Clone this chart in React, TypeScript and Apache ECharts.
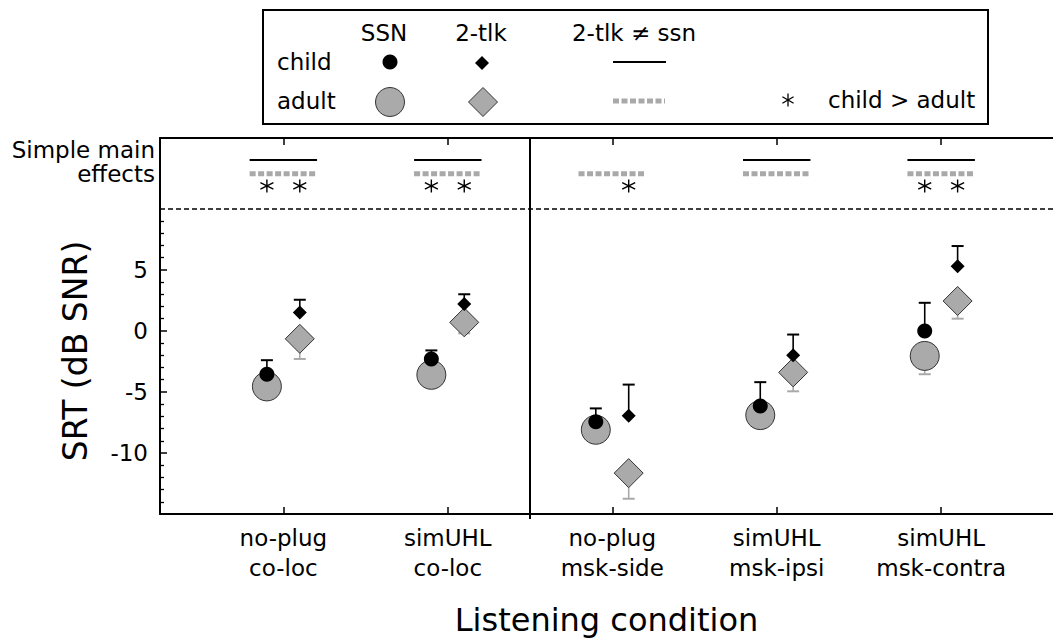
import React, { useEffect, useRef } from "react";
import * as echarts from "echarts";

// ---- data ----
const conditionTop = ["no-plug", "simUHL", "no-plug", "simUHL", "simUHL"];
const conditionBottom = ["co-loc", "co-loc", "msk-side", "msk-ipsi", "msk-contra"];

const childSSN = [-3.55, -2.3, -7.45, -6.15, 0.0];
const childSSNErrTop = [-2.4, -1.6, -6.35, -4.2, 2.3];
const adultSSN = [-4.55, -3.6, -8.1, -6.9, -2.05];
const adultSSNErrBottom: (number | null)[] = [null, null, null, null, -3.55];
const child2tlk = [1.5, 2.2, -6.95, -2.0, 5.3];
const child2tlkErrTop = [2.55, 3.0, -4.4, -0.3, 6.95];
const adult2tlk = [-0.65, 0.7, -11.65, -3.4, 2.45];
const adult2tlkErrBottom = [-2.3, -0.2, -13.75, -4.95, 1.0];

// simple main effects
const childTalkerDiff = [true, true, false, true, true];
const adultTalkerDiff = [true, true, true, true, true];
const childGtAdultSSN = [true, true, false, false, true];
const childGtAdult2tlk = [true, true, true, false, true];

const conditionTicks = [1, 2, 3, 4, 5];
const yMajorTicks = [-10, -5, 0, 5];
const yMinorTicks = [-14, -13, -12, -11, -9, -8, -7, -6, -4, -3, -2, -1, 1, 2, 3, 4, 6, 7, 8, 9];
const effectsBoundary = 10;
const spatialDivider = 2.5;

// ---- layout constants ----
const OFF = 0.1;
const HALF = 0.205;
const ROW_CHILD = 14;
const ROW_ADULT = 12.88;
const ROW_STAR = 11.87;
const GRAY = "#aaaaaa";
const GRAY_LINE = "#a9a9a9";
const FONT = "DejaVu Sans";
const ASTERISK = "path://M6,0L6,12M0.8,3L11.2,9M0.8,9L11.2,3";

function errData(centers: number[], ends: (number | null)[], offset: number) {
  const out: number[][] = [];
  centers.forEach((c, i) => {
    const e = ends[i];
    if (e != null) out.push([i + 1 + offset, c, e]);
  });
  return out;
}

function flagData(flags: boolean[], offset: number, y: number) {
  const out: number[][] = [];
  flags.forEach((f, i) => {
    if (f) out.push([i + 1 + offset, y]);
  });
  return out;
}

const errRender = (color: string) => (params: any, api: any) => {
  const x = api.value(0);
  const c = api.value(1);
  const e = api.value(2);
  const p0 = api.coord([x, c]);
  const p1 = api.coord([x, e]);
  return {
    type: "group",
    children: [
      { type: "line", shape: { x1: p0[0], y1: p0[1], x2: p1[0], y2: p1[1] }, style: { stroke: color, lineWidth: 1.6 } },
      { type: "line", shape: { x1: p1[0] - 6, y1: p1[1], x2: p1[0] + 6, y2: p1[1] }, style: { stroke: color, lineWidth: 2 } },
    ],
  };
};

const segRender = (style: any) => (params: any, api: any) => {
  const x = api.value(0);
  const y = api.value(1);
  const a = api.coord([x - HALF, y]);
  const b = api.coord([x + HALF, y]);
  return { type: "line", shape: { x1: a[0], y1: a[1], x2: b[0], y2: b[1] }, style };
};

function asteriskGraphic(cx: number, cy: number) {
  const st = { stroke: "#000", lineWidth: 1.3 };
  return {
    type: "group",
    children: [
      { type: "line", shape: { x1: cx, y1: cy - 6.5, x2: cx, y2: cy + 6.5 }, style: st },
      { type: "line", shape: { x1: cx - 5.6, y1: cy - 3.25, x2: cx + 5.6, y2: cy + 3.25 }, style: st },
      { type: "line", shape: { x1: cx - 5.6, y1: cy + 3.25, x2: cx + 5.6, y2: cy - 3.25 }, style: st },
    ],
  };
}

function diamond(cx: number, cy: number, h: number) {
  return [
    [cx, cy - h],
    [cx + h, cy],
    [cx, cy + h],
    [cx - h, cy],
  ];
}

function txt(x: number, y: number, text: string, align: string, size = 23) {
  return {
    type: "text",
    x,
    y,
    style: {
      text,
      x: 0,
      y: 0,
      fill: "#000",
      font: `${size}px "${FONT}"`,
      textAlign: align,
      textVerticalAlign: "middle",
      align,
      verticalAlign: "middle",
    },
  };
}

export default function App() {
  const ref = useRef<HTMLDivElement>(null);
  useEffect(() => {
    if (!ref.current) return;
    const chart = echarts.init(ref.current, null, { renderer: "svg" });

    const xBase = {
      type: "value",
      min: 0.25,
      max: 5.68,
      splitLine: { show: false },
    };
    const yBase = {
      type: "value",
      min: -15,
      max: 15.8,
      splitLine: { show: false },
    };

    const option: any = {
      animation: false,
      backgroundColor: "#fff",
      textStyle: { fontFamily: FONT, color: "#000" },
      grid: { left: 160, top: 138, right: 0, bottom: 128, outerBoundsMode: "none", containLabel: false },
      xAxis: [
        {
          ...xBase,
          position: "bottom",
          axisLine: { show: true, onZero: false, lineStyle: { color: "#000", width: 2 } },
          axisTick: { show: true, inside: true, length: 7, customValues: conditionTicks, lineStyle: { color: "#000", width: 1.5 } },
          axisLabel: {
            show: true,
            customValues: conditionTicks,
            formatter: (v: number) => {
              const i = Math.round(v) - 1;
              return conditionTop[i] + "\n" + conditionBottom[i];
            },
            fontSize: 23,
            lineHeight: 30,
            color: "#000",
            margin: 9,
            fontFamily: FONT,
          },
          name: "Listening condition",
          nameLocation: "middle",
          nameGap: 90,
          nameTextStyle: { fontSize: 32, color: "#000", fontFamily: FONT },
        },
        {
          ...xBase,
          position: "top",
          axisLine: { show: true, onZero: false, lineStyle: { color: "#000", width: 2 } },
          axisTick: { show: true, inside: true, length: 7, customValues: conditionTicks, lineStyle: { color: "#000", width: 1.5 } },
          axisLabel: { show: false },
        },
        {
          ...xBase,
          position: "bottom",
          axisLine: { show: false, onZero: false },
          axisTick: { show: true, inside: false, length: 5, customValues: [spatialDivider], lineStyle: { color: "#000", width: 2 } },
          axisLabel: { show: false },
        },
      ],
      yAxis: [
        {
          ...yBase,
          position: "left",
          axisLine: { show: true, onZero: false, lineStyle: { color: "#000", width: 2 } },
          axisTick: { show: true, inside: true, length: 4, customValues: yMinorTicks, lineStyle: { color: "#000", width: 1.3 } },
          axisLabel: { show: false },
        },
        {
          ...yBase,
          position: "left",
          axisLine: { show: false, onZero: false },
          axisTick: { show: true, inside: true, length: 7, customValues: yMajorTicks, lineStyle: { color: "#000", width: 1.5 } },
          axisLabel: { show: true, customValues: yMajorTicks, fontSize: 23, color: "#000", margin: 12, fontFamily: FONT },
        },
      ],
      graphic: [
        // y axis title
        {
          type: "text",
          x: 75,
          y: 351,
          rotation: Math.PI / 2,
          style: {
            text: "SRT (dB SNR)",
            x: 0,
            y: 0,
            fill: "#000",
            font: `33px "${FONT}"`,
            textAlign: "center",
            textVerticalAlign: "middle",
            align: "center",
            verticalAlign: "middle",
          },
        },
        txt(155, 150, "Simple main", "right"),
        txt(155, 174, "effects", "right"),
        // legend box
        {
          type: "rect",
          shape: { x: 263, y: 10, width: 725, height: 114 },
          style: { fill: "#fff", stroke: "#000", lineWidth: 2 },
        },
        txt(384, 33, "SSN", "center"),
        txt(481, 33, "2-tlk", "center"),
        txt(634, 33, "2-tlk \u2260 ssn", "center"),
        txt(277, 62, "child", "left"),
        txt(277, 101, "adult", "left"),
        { type: "circle", shape: { cx: 390, cy: 62, r: 7.5 }, style: { fill: "#000" } },
        { type: "polygon", shape: { points: diamond(482, 63, 7) }, style: { fill: "#000" } },
        { type: "line", shape: { x1: 613, y1: 62, x2: 666, y2: 62 }, style: { stroke: "#000", lineWidth: 2 } },
        { type: "circle", shape: { cx: 390, cy: 102, r: 14.5 }, style: { fill: GRAY, stroke: "#333", lineWidth: 1 } },
        { type: "polygon", shape: { points: diamond(483, 102, 14.5) }, style: { fill: GRAY, stroke: "#333", lineWidth: 1 } },
        {
          type: "line",
          shape: { x1: 613, y1: 101, x2: 665, y2: 101 },
          style: { stroke: GRAY_LINE, lineWidth: 5, lineDash: [6, 2.5] },
        },
        asteriskGraphic(788, 100),
        txt(828, 100, "child > adult", "left"),
      ],
      series: [
        {
          type: "custom",
          name: "adult SSN err",
          xAxisIndex: 0,
          yAxisIndex: 0,
          renderItem: errRender(GRAY),
          encode: { x: 0, y: [1, 2] },
          data: errData(adultSSN, adultSSNErrBottom, -OFF),
          z: 1,
          markLine: {
            silent: true,
            symbol: "none",
            label: { show: false },
            data: [
              { yAxis: effectsBoundary, lineStyle: { color: "#000", type: [5, 3], width: 1.5 } },
              { xAxis: spatialDivider, lineStyle: { color: "#000", type: "solid", width: 2 } },
            ],
          },
        },
        {
          type: "custom",
          name: "adult 2-tlk err",
          renderItem: errRender(GRAY),
          encode: { x: 0, y: [1, 2] },
          data: errData(adult2tlk, adult2tlkErrBottom, OFF),
          z: 1,
        },
        {
          type: "custom",
          name: "child SSN err",
          renderItem: errRender("#000"),
          encode: { x: 0, y: [1, 2] },
          data: errData(childSSN, childSSNErrTop, -OFF),
          z: 1,
        },
        {
          type: "custom",
          name: "child 2-tlk err",
          renderItem: errRender("#000"),
          encode: { x: 0, y: [1, 2] },
          data: errData(child2tlk, child2tlkErrTop, OFF),
          z: 1,
        },
        {
          type: "scatter",
          name: "adult SSN",
          symbol: "circle",
          symbolSize: 29,
          itemStyle: { color: GRAY, borderColor: "#333", borderWidth: 1, opacity: 1 },
          data: adultSSN.map((v, i) => [i + 1 - OFF, v]),
          z: 2,
        },
        {
          type: "scatter",
          name: "adult 2-tlk",
          symbol: "diamond",
          symbolSize: 29,
          itemStyle: { color: GRAY, borderColor: "#333", borderWidth: 1, opacity: 1 },
          data: adult2tlk.map((v, i) => [i + 1 + OFF, v]),
          z: 2,
        },
        {
          type: "scatter",
          name: "child SSN",
          symbol: "circle",
          symbolSize: 15,
          itemStyle: { color: "#000", opacity: 1 },
          data: childSSN.map((v, i) => [i + 1 - OFF, v]),
          z: 3,
        },
        {
          type: "scatter",
          name: "child 2-tlk",
          symbol: "diamond",
          symbolSize: 14,
          itemStyle: { color: "#000", opacity: 1 },
          data: child2tlk.map((v, i) => [i + 1 + OFF, v]),
          z: 3,
        },
        {
          type: "custom",
          name: "child 2-tlk != ssn",
          renderItem: segRender({ stroke: "#000", lineWidth: 2 }),
          encode: { x: 0, y: 1 },
          data: flagData(childTalkerDiff, 0, ROW_CHILD),
        },
        {
          type: "custom",
          name: "adult 2-tlk != ssn",
          renderItem: segRender({ stroke: GRAY_LINE, lineWidth: 5, lineDash: [6, 2.5] }),
          encode: { x: 0, y: 1 },
          data: flagData(adultTalkerDiff, 0, ROW_ADULT),
        },
        {
          type: "scatter",
          name: "child > adult",
          symbol: ASTERISK,
          symbolSize: [13, 13],
          itemStyle: { color: "none", borderColor: "#000", borderWidth: 1.4, opacity: 1 },
          data: [...flagData(childGtAdultSSN, -OFF, ROW_STAR), ...flagData(childGtAdult2tlk, OFF, ROW_STAR)],
        },
      ],
    };

    chart.setOption(option);
    return () => {
      chart.dispose();
    };
  }, []);

  return (
    <div
      ref={ref}
      style={{ position: "absolute", left: 0, top: 0, width: 1053, height: 642, background: "#fff" }}
    />
  );
}
